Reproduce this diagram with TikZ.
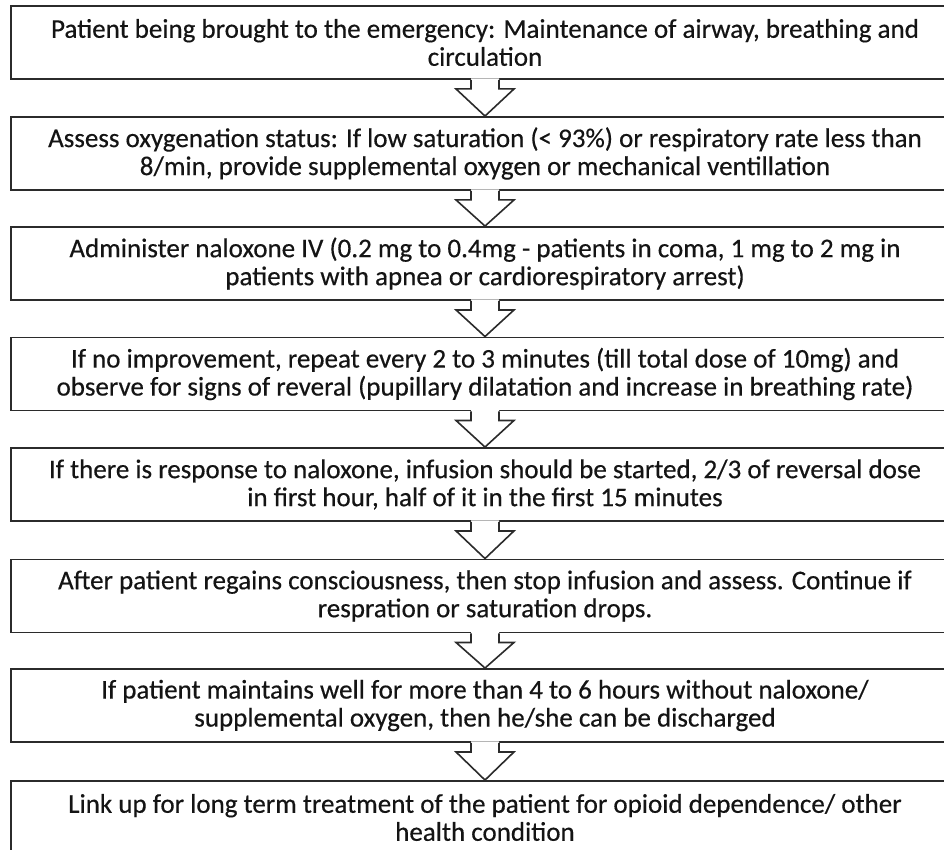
\documentclass[tikz,border=0pt]{standalone}
\usepackage{fontspec}
\setmainfont{Carlito}[FakeBold=0.4]
\usetikzlibrary{calc}

\definecolor{inkline}{HTML}{2B2B2B}
\definecolor{inktext}{HTML}{141414}

\tikzset{
  stepbox/.style={draw=inkline, line width=1.9pt, fill=white, rectangle,
    minimum width=948pt, minimum height=73pt, inner sep=0pt,
    align=center, text=inktext,
    font=\fontsize{27}{28}\selectfont},
  arrowline/.style={draw=inkline, line width=1.6pt, line join=miter},
}

% hollow block arrow from the bottom of one box to the top of the next
\newcommand{\stepArrow}[2]{%
  \fill[white] ($(#1.south)+(-14,-1.5)$) -- ($(#1.south)+(-14,9)$)
    -- ($(#1.south)+(-29,9)$) -- (#2.north) -- ($(#1.south)+(29,9)$)
    -- ($(#1.south)+(14,9)$) -- ($(#1.south)+(14,-1.5)$) -- cycle;
  \draw[arrowline] ($(#1.south)+(-14,0)$) -- ($(#1.south)+(-14,9)$)
    -- ($(#1.south)+(-29,9)$) -- (#2.north) -- ($(#1.south)+(29,9)$)
    -- ($(#1.south)+(14,9)$) -- ($(#1.south)+(14,0)$);
}

\begin{document}
\begin{tikzpicture}[x=1pt, y=-1pt]
  \useasboundingbox (0,0) rectangle (944,850);
  \clip (0,0) rectangle (944,850);
  \fill[white] (0,0) rectangle (944,850);

  \node[stepbox] (b1) at (485,42.5) {Patient being brought to the emergency: Maintenance of airway, breathing and\\circulation};
  \node[stepbox] (b2) at (485,153.5) {Assess oxygenation status: If low saturation (< 93\%) or respiratory rate less than\\8/min, provide supplemental oxygen or mechanical ventillation};
  \node[stepbox] (b3) at (485,263.5) {Administer naloxone IV (0.2 mg to 0.4mg - patients in coma, 1 mg to 2 mg in\\patients with apnea or cardiorespiratory arrest)};
  \node[stepbox] (b4) at (485,374) {If no improvement, repeat every 2 to 3 minutes (till total dose of 10mg) and\\observe for signs of reveral (pupillary dilatation and increase in breathing rate)};
  \node[stepbox] (b5) at (485,484.5) {If there is response to naloxone, infusion should be started, 2/3 of reversal dose\\in first hour, half of it in the first 15 minutes};
  \node[stepbox] (b6) at (485,596) {After patient regains consciousness, then stop infusion and assess. Continue if\\respration or saturation drops.};
  \node[stepbox] (b7) at (485,705.5) {If patient maintains well for more than 4 to 6 hours without naloxone/\\supplemental oxygen, then he/she can be discharged};
  \node[stepbox] (b8) at (485,817.5) {Link up for long term treatment of the patient for opioid dependence/ other\\health condition};

  \stepArrow{b1}{b2}
  \stepArrow{b2}{b3}
  \stepArrow{b3}{b4}
  \stepArrow{b4}{b5}
  \stepArrow{b5}{b6}
  \stepArrow{b6}{b7}
  \stepArrow{b7}{b8}
\end{tikzpicture}
\end{document}
